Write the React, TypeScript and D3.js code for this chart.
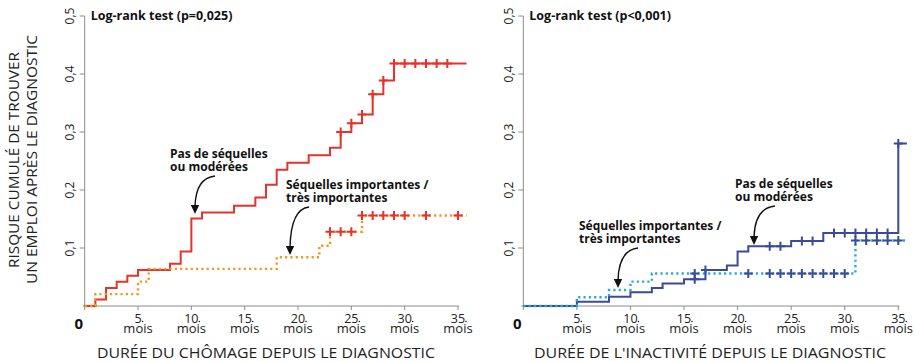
import React from "react";
import * as d3 from "d3";

// ---------- data ----------
const monthTicks = [5, 10, 15, 20, 25, 30, 35];
const yTicks = [0.1, 0.2, 0.3, 0.4, 0.5];
const yTickLabels = ["0,1", "0,2", "0,3", "0,4", "0,5"];

// Left panel: chômage
const leftNoSeqTimes = [0, 1, 2, 3, 4, 5, 8, 9, 10, 11, 14, 16, 17, 18, 19, 21, 23, 24, 25, 26, 27, 28, 29];
const leftNoSeqValues = [0, 0.011, 0.031, 0.042, 0.052, 0.062, 0.073, 0.094, 0.151, 0.161, 0.173, 0.187, 0.209, 0.235, 0.247, 0.26, 0.273, 0.3, 0.315, 0.33, 0.365, 0.389, 0.418];
const leftNoSeqCensor = [24, 25, 26, 27, 28, 29, 30, 31, 32, 33, 34];
const leftSeqTimes = [0, 1, 5, 6, 18, 22, 23, 26];
const leftSeqValues = [0, 0.0205, 0.042, 0.064, 0.084, 0.104, 0.128, 0.156];
const leftSeqCensor = [23, 24, 25, 26, 27, 28, 29, 30, 32, 35];

// Right panel: inactivité
const rightNoSeqTimes = [0, 5, 8, 10, 12, 13, 15, 17, 19, 20, 21, 25, 28, 35];
const rightNoSeqValues = [0, 0.0074, 0.016, 0.0235, 0.031, 0.039, 0.046, 0.062, 0.07, 0.094, 0.103, 0.112, 0.126, 0.28];
const rightNoSeqCensor = [16, 17, 23, 24, 26, 27, 29, 30, 31, 32, 33, 34, 35];
const rightSeqTimes = [0, 5, 8, 10, 12, 31];
const rightSeqValues = [0, 0.015, 0.0275, 0.042, 0.056, 0.113];
const rightSeqCensor = [16, 21, 23, 24, 25, 26, 27, 28, 29, 30, 31, 32, 33, 34, 35];

const END_MONTH = 35.8;

const RED = "#e6322a";
const ORANGE = "#f5961e";
const NAVY = "#3c4a9a";
const LIGHTBLUE = "#2aa8e0";
const AXIS = "#8c8c8c";
const FONT = "'Open Sans', 'Lato', sans-serif";

const yScale = d3.scaleLinear().domain([0, 0.5]).range([306, 16]);

type Series = {
  times: number[];
  values: number[];
  censor: number[];
  color: string;
  censorColor: string;
  dotted: boolean;
};

function stepValue(times: number[], values: number[], t: number) {
  let v = values[0];
  for (let i = 0; i < times.length; i++) if (times[i] <= t) v = values[i];
  return v;
}

function Arrow({ sx, sy, tx, ty }: { sx: number; sy: number; tx: number; ty: number }) {
  const hy = ty - 8;
  const d = `M${sx},${sy} Q${tx + 1},${sy + 2} ${tx},${hy}`;
  return (
    <g>
      <path d={d} fill="none" stroke="#111" strokeWidth={1.4} />
      <path d={`M${tx - 4.2},${hy - 1} L${tx + 4.2},${hy - 1} L${tx},${ty} Z`} fill="#111" />
    </g>
  );
}

function Panel({
  x0,
  x1,
  series,
  logrank,
  title,
  annotations,
  yLabelX,
}: {
  x0: number;
  x1: number;
  series: Series[];
  logrank: string;
  title: { text: string; cx: number; len: number };
  annotations: { lines: string[]; x: number; y: number; arrow: [number, number, number, number] }[];
  yLabelX: number;
}) {
  const xScale = d3.scaleLinear().domain([0, 35]).range([x0, x1]);
  const line = d3
    .line<[number, number]>()
    .x((d) => xScale(d[0]))
    .y((d) => yScale(d[1]))
    .curve(d3.curveStepAfter);

  return (
    <g>
      {/* axes */}
      <line x1={x0} x2={x0} y1={yScale(0)} y2={yScale(0.5)} stroke={AXIS} strokeWidth={1} />
      <line x1={x0 - 2} x2={x1 + 1} y1={yScale(0)} y2={yScale(0)} stroke={AXIS} strokeWidth={1} />
      {yTicks.map((t, i) => (
        <g key={t}>
          <line x1={x0 - 5} x2={x0} y1={yScale(t)} y2={yScale(t)} stroke={AXIS} strokeWidth={1} />
          <text
            transform={`translate(${yLabelX},${yScale(t)}) rotate(-90)`}
            textAnchor="middle"
            fontFamily={FONT}
            fontSize={12}
            fill="#222"
          >
            {yTickLabels[i]}
          </text>
        </g>
      ))}
      <line x1={x0} x2={x0} y1={yScale(0)} y2={yScale(0) + 4} stroke={AXIS} strokeWidth={1} />
      {monthTicks.map((m) => (
        <g key={m}>
          <line x1={xScale(m)} x2={xScale(m)} y1={yScale(0)} y2={yScale(0) + 4} stroke={AXIS} strokeWidth={1} />
          <text textAnchor="middle" fontFamily={FONT} fill="#222">
            <tspan x={xScale(m)} y={323} fontSize={12.5}>
              {m}
            </tspan>
            <tspan x={xScale(m)} y={332.5} fontSize={13}>
              mois
            </tspan>
          </text>
          <circle cx={xScale(m) + (m < 10 ? 4.5 : 8)} cy={321.5} r={0.8} fill="#222" />
        </g>
      ))}
      <text x={x0 - 6} y={329} textAnchor="middle" fontFamily={FONT} fontSize={15} fontWeight="bold" fill="#111">
        0
      </text>

      {/* curves */}
      {series.map((s, i) => {
        const pts: [number, number][] = s.times.map((t, j) => [t, s.values[j]]);
        pts.push([END_MONTH, s.values[s.values.length - 1]]);
        return (
          <path
            key={i}
            d={line(pts) || ""}
            fill="none"
            stroke={s.color}
            strokeWidth={s.dotted ? 2.4 : 2}
            strokeDasharray={s.dotted ? "2.2 3.1" : undefined}
          />
        );
      })}
      {series.map((s, i) => (
        <g key={"c" + i}>
          {s.censor.map((t) => {
            const cx = xScale(t);
            const cy = yScale(stepValue(s.times, s.values, t));
            return (
              <path
                key={t}
                d={`M${cx - 4.5},${cy} H${cx + 4.5} M${cx},${cy - 4.5} V${cy + 4.5}`}
                stroke={s.censorColor}
                strokeWidth={2}
              />
            );
          })}
        </g>
      ))}

      {/* log-rank */}
      <text x={x0 + 6} y={20} fontFamily={FONT} fontSize={12.5} fontWeight="bold" fill="#111">
        {logrank}
      </text>

      {/* annotations */}
      {annotations.map((a, i) => (
        <g key={"a" + i}>
          <text fontFamily={FONT} fontSize={12} fontWeight="bold" fill="#111">
            {a.lines.map((l, j) => (
              <tspan key={j} x={a.x} y={a.y + j * 13}>
                {l}
              </tspan>
            ))}
          </text>
          <Arrow sx={a.arrow[0]} sy={a.arrow[1]} tx={a.arrow[2]} ty={a.arrow[3]} />
        </g>
      ))}

      {/* x title */}
      <text
        x={title.cx}
        y={358}
        textAnchor="middle"
        fontFamily={FONT}
        fontSize={14}
        fill="#222"
        textLength={title.len}
        lengthAdjust="spacingAndGlyphs"
      >
        {title.text}
      </text>
    </g>
  );
}

export default function App() {
  const leftSeries: Series[] = [
    { times: leftNoSeqTimes, values: leftNoSeqValues, censor: leftNoSeqCensor, color: RED, censorColor: RED, dotted: false },
    { times: leftSeqTimes, values: leftSeqValues, censor: leftSeqCensor, color: ORANGE, censorColor: RED, dotted: true },
  ];
  const rightSeries: Series[] = [
    { times: rightNoSeqTimes, values: rightNoSeqValues, censor: rightNoSeqCensor, color: NAVY, censorColor: NAVY, dotted: false },
    { times: rightSeqTimes, values: rightSeqValues, censor: rightSeqCensor, color: LIGHTBLUE, censorColor: NAVY, dotted: true },
  ];
  return (
    <svg
      width={915}
      height={362}
      style={{ position: "absolute", left: 0, top: 0, background: "#fff" }}
      xmlns="http://www.w3.org/2000/svg"
    >
      <rect width={915} height={362} fill="#fff" />
      {/* y title */}
      <text
        transform="translate(19,160) rotate(-90)"
        textAnchor="middle"
        fontFamily={FONT}
        fontSize={14.5}
        fill="#222"
        textLength={216}
        lengthAdjust="spacingAndGlyphs"
      >
        RISQUE CUMULÉ DE TROUVER
      </text>
      <text
        transform="translate(37,159.5) rotate(-90)"
        textAnchor="middle"
        fontFamily={FONT}
        fontSize={14.5}
        fill="#222"
        textLength={249}
        lengthAdjust="spacingAndGlyphs"
      >
        UN EMPLOI APRÈS LE DIAGNOSTIC
      </text>
      <Panel
        x0={84.7}
        x1={458}
        series={leftSeries}
        logrank="Log-rank test (p=0,025)"
        title={{ text: "DURÉE DU CHÔMAGE DEPUIS LE DIAGNOSTIC", cx: 266, len: 338 }}
        yLabelX={74}
        annotations={[
          { lines: ["Pas de séquelles", "ou modérées"], x: 170, y: 158, arrow: [215, 176, 195, 214] },
          { lines: ["Séquelles importantes /", "très importantes"], x: 286, y: 189, arrow: [309, 207, 290, 255] },
        ]}
      />
      <Panel
        x0={523.3}
        x1={898.3}
        series={rightSeries}
        logrank="Log-rank test (p<0,001)"
        title={{ text: "DURÉE DE L'INACTIVITÉ DEPUIS LE DIAGNOSTIC", cx: 710, len: 352 }}
        yLabelX={513}
        annotations={[
          { lines: ["Pas de séquelles", "ou modérées"], x: 735, y: 188, arrow: [775, 206, 754, 245] },
          { lines: ["Séquelles importantes /", "très importantes"], x: 579, y: 230, arrow: [638, 248, 618, 288] },
        ]}
      />
    </svg>
  );
}
